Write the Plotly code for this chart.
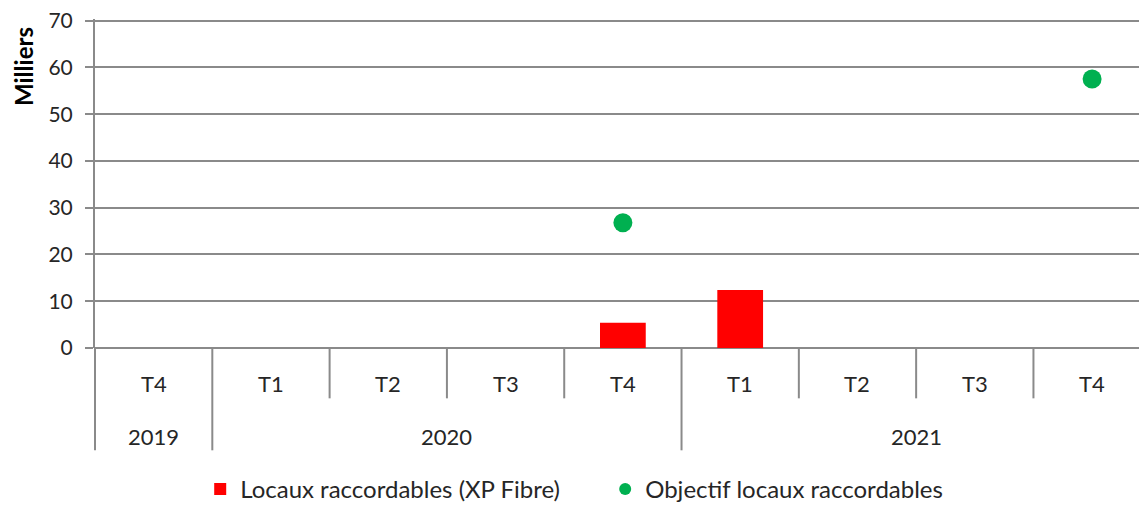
import plotly.graph_objects as go

quarters = ["T4", "T1", "T2", "T3", "T4", "T1", "T2", "T3", "T4"]
years = ["2019", "2020", "2020", "2020", "2020", "2021", "2021", "2021", "2021"]
locaux = [None, None, None, None, 5.4, 12.4, None, None, None]
objectif = [None, None, None, None, 26.8, None, None, None, 57.5]

xs = list(range(len(quarters)))
FONT = "Lato"
GRAY = "#8a8a8a"
TXT = "#262626"
FS = 22

fig = go.Figure()
fig.add_trace(go.Bar(x=xs, y=locaux, name="Locaux raccordables (XP Fibre)",
                     marker=dict(color="#ff0000", line=dict(width=0)), width=0.39))
fig.add_trace(go.Scatter(x=xs, y=objectif, name="Objectif locaux raccordables",
                         mode="markers", marker=dict(color="#00b050", size=19, symbol="circle")))

shapes = []
annotations = []
for i, q in enumerate(quarters):
    annotations.append(dict(x=i, y=-0.1074, xref="x", yref="paper", text=q, showarrow=False,
                            xanchor="center", yanchor="middle",
                            font=dict(family=FONT, size=FS, color=TXT)))
for i in range(1, len(quarters)):
    outer = years[i] != years[i - 1]
    shapes.append(dict(type="line", xref="x", yref="paper", x0=i - 0.5, x1=i - 0.5,
                       y0=0, y1=-0.311 if outer else -0.153,
                       line=dict(color=GRAY, width=2)))
shapes.append(dict(type="line", xref="paper", yref="paper", x0=0, x1=0, y0=0, y1=-0.311,
                   line=dict(color=GRAY, width=2)))
groups = []
for i, y in enumerate(years):
    if groups and groups[-1][0] == y:
        groups[-1][2] = i
    else:
        groups.append([y, i, i])
for y, a, b in groups:
    annotations.append(dict(x=(a + b) / 2, y=-0.2686, xref="x", yref="paper", text=y, showarrow=False,
                            xanchor="center", yanchor="middle",
                            font=dict(family=FONT, size=FS, color=TXT)))
annotations.append(dict(x=-0.0685, y=0.857, xref="paper", yref="paper", text="<b>Milliers</b>",
                        textangle=-90, showarrow=False, xanchor="center", yanchor="middle",
                        font=dict(family=FONT, size=24, color="#000")))

# the page adds an 8px body margin, so the figure is sized 8px smaller
fig.update_layout(
    width=1139, height=497,
    margin=dict(l=87, r=0, t=11, b=157, autoexpand=False),
    plot_bgcolor="white", paper_bgcolor="white",
    font=dict(family=FONT, size=FS, color=TXT),
    showlegend=True,
    legend=dict(orientation="h", x=0.1, xanchor="left", y=-0.4296, yanchor="middle",
                font=dict(family=FONT, size=24, color=TXT), entrywidth=360, entrywidthmode="pixels",
                itemsizing="constant"),
    xaxis=dict(range=[-0.5, 8.468], showticklabels=False, showgrid=False, zeroline=False,
               showline=False, fixedrange=True, automargin=False),
    yaxis=dict(range=[0, 70.35], tickvals=[0, 10, 20, 30, 40, 50, 60, 70], showgrid=True,
               gridcolor=GRAY, gridwidth=2,
               showline=True, linecolor=GRAY, linewidth=2, ticks="outside", ticklen=8,
               tickcolor=GRAY, tickwidth=2, zeroline=True, zerolinecolor=GRAY, zerolinewidth=2,
               ticklabelstandoff=8, ticklabeloverflow="allow",
               tickfont=dict(family=FONT, size=21, color=TXT), automargin=False),
    shapes=shapes, annotations=annotations,
)

fig.write_html("out.html")
